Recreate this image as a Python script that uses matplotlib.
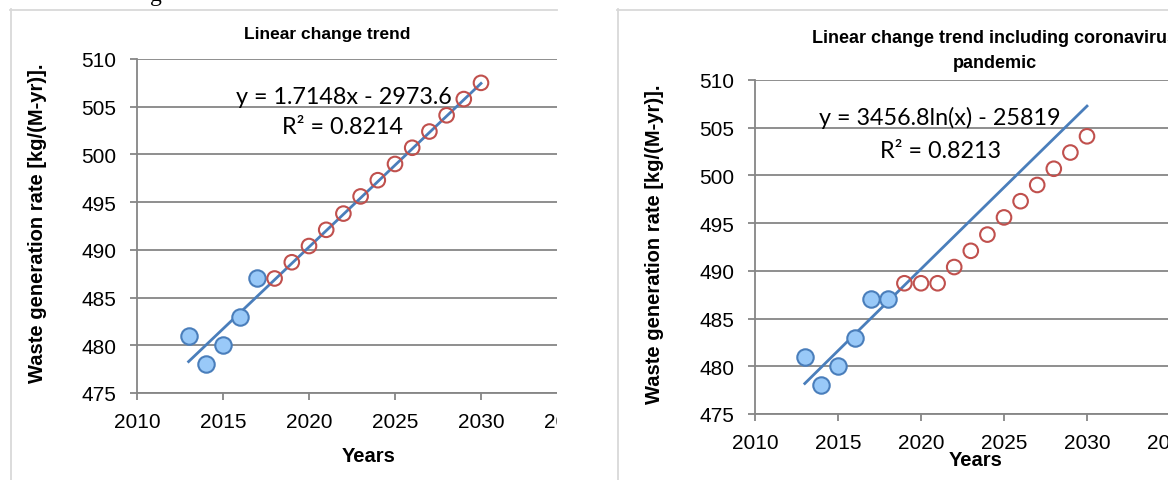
import numpy as np
import matplotlib.pyplot as plt
from matplotlib.lines import Line2D
from matplotlib.patches import Rectangle

W, H = 1168, 481  # output size in pixels

# Data
years_obs_a = [2013, 2014, 2015, 2016, 2017]
waste_obs_a = [481, 478, 480, 483, 487]
years_fc_a = [2018, 2019, 2020, 2021, 2022, 2023, 2024, 2025, 2026, 2027, 2028, 2029, 2030]
waste_fc_a = [487.0, 488.7, 490.4, 492.1, 493.8, 495.6, 497.3, 499.0, 500.7, 502.4, 504.1, 505.8, 507.5]
slope_a, icpt_a = 1.7148, -2973.6

years_obs_b = [2013, 2014, 2015, 2016, 2017, 2018]
waste_obs_b = [481, 478, 480, 483, 487, 487]
years_fc_b = [2019, 2020, 2021, 2022, 2023, 2024, 2025, 2026, 2027, 2028, 2029, 2030]
waste_fc_b = [488.7, 488.7, 488.7, 490.4, 492.1, 493.8, 495.6, 497.3, 499.0, 500.7, 502.4, 504.1]
coef_b, icpt_b = 3456.8, -25819

x_ticks = [2010, 2015, 2020, 2025, 2030, 2035]
y_ticks = [475, 480, 485, 490, 495, 500, 505, 510]

narrow = ['Liberation Sans', 'DejaVu Sans']
eqfont = ['Lato', 'DejaVu Sans']
grey = '#868686'


def fx(px):
    return px / W


def fy(py):
    return 1 - py / H


def setup(ax):
    ax.set_xlim(2010, 2035)
    ax.set_ylim(475, 510)
    ax.set_xticks(x_ticks)
    ax.set_yticks(y_ticks)
    ax.yaxis.grid(True, color=grey, lw=1.3)
    ax.set_axisbelow(True)
    for s in ['top', 'right']:
        ax.spines[s].set_visible(False)
    for s in ['left', 'bottom']:
        ax.spines[s].set_color(grey)
        ax.spines[s].set_linewidth(1.3)
    ax.tick_params(axis='both', direction='out', length=5, width=1.3,
                   color=grey, labelsize=15)
    ax.tick_params(axis='x', pad=9)
    ax.tick_params(axis='y', pad=10)
    for lab in ax.get_xticklabels() + ax.get_yticklabels():
        lab.set_family(narrow)


fig = plt.figure(figsize=(W / 100, H / 100), dpi=100)

# left chart
ax1 = fig.add_axes([fx(137), fy(394), fx(430), 334 / H])
setup(ax1)
xs = np.linspace(2013, 2030, 50)
ax1.plot(xs, slope_a * xs + icpt_a, color='#4a7ebb', lw=2, zorder=2)
ax1.scatter(years_obs_a, waste_obs_a, s=140, facecolor='#99c9f8',
            edgecolor='#4a7ebb', lw=1.5, zorder=3)
ax1.scatter(years_fc_a, waste_fc_a, s=110, facecolor='none',
            edgecolor='#c0504d', lw=1.5, zorder=3)

# right chart
ax2 = fig.add_axes([fx(755), fy(415), fx(415), 334 / H])
setup(ax2)
ax2.plot(xs, coef_b * np.log(xs) + icpt_b, color='#4a7ebb', lw=2, zorder=2)
ax2.scatter(years_obs_b, waste_obs_b, s=140, facecolor='#99c9f8',
            edgecolor='#4a7ebb', lw=1.5, zorder=3)
ax2.scatter(years_fc_b, waste_fc_b, s=110, facecolor='none',
            edgecolor='#c0504d', lw=1.5, zorder=3)

# left chart is cut off by the page crop
fig.add_artist(Rectangle((fx(557), 0), fx(60), 1, facecolor='white',
                         edgecolor='none', zorder=5))

# chart frames
frame = '#d9d9d9'
fig.add_artist(Line2D([fx(10), fx(557)], [fy(10.5), fy(10.5)], color=frame, lw=1.3, zorder=6))
fig.add_artist(Line2D([fx(10.5), fx(10.5)], [fy(10), 0], color=frame, lw=1.3, zorder=6))
fig.add_artist(Line2D([fx(617), 1], [fy(10.5), fy(10.5)], color=frame, lw=1.3, zorder=6))
fig.add_artist(Line2D([fx(617.5), fx(617.5)], [fy(10), 0], color=frame, lw=1.3, zorder=6))

# titles
fig.text(fx(327), fy(35), 'Linear change trend', ha='center', va='center',
         fontsize=12.5, fontweight='bold', family=narrow)
fig.text(fx(995), fy(51), 'Linear change trend including coronavirus\npandemic',
         ha='center', va='center', fontsize=13, fontweight='bold',
         family=narrow, linespacing=1.6)

# axis labels
for x, y in [(38, 223), (655, 244)]:
    fig.text(fx(x), fy(y), 'Waste generation rate [kg/(M-yr)].', rotation=90,
             ha='center', va='center', fontsize=14.5, fontweight='bold', family=narrow)
fig.text(fx(369), fy(457), 'Years', ha='center', va='center', fontsize=14.5,
         fontweight='bold', family=narrow)
fig.text(fx(976), fy(460), 'Years', ha='center', va='center', fontsize=14.5,
         fontweight='bold', family=narrow, zorder=6)

# trendline equations
fig.text(fx(344), fy(98), 'y = 1.7148x - 2973.6', ha='center', va='center',
         fontsize=16.8, family=eqfont)
fig.text(fx(343), fy(128), 'R² = 0.8214', ha='center', va='center',
         fontsize=16.8, family=eqfont)
fig.text(fx(940), fy(118), 'y = 3456.8ln(x) - 25819', ha='center', va='center',
         fontsize=16.8, family=eqfont)
fig.text(fx(940), fy(151), 'R² = 0.8213', ha='center', va='center',
         fontsize=16.8, family=eqfont)

# bit of page text cut off at the top
fig.text(fx(150), fy(1), 'g', ha='left', va='baseline', fontsize=17,
         family='Liberation Serif')

fig.savefig('out.png', dpi=100)
